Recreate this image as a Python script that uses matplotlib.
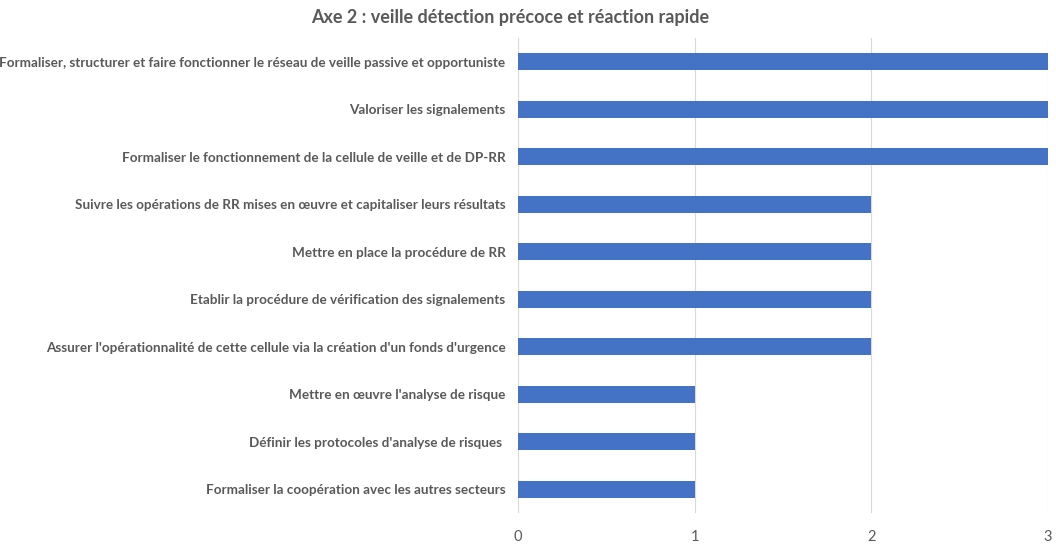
import matplotlib
matplotlib.use("Agg")
import matplotlib.pyplot as plt
import numpy as np

title = "Axe 2 : veille détection précoce et réaction rapide"
categories = [
    "Formaliser, structurer et faire fonctionner le réseau de veille passive et opportuniste",
    "Valoriser les signalements",
    "Formaliser le fonctionnement de la cellule de veille et de DP-RR",
    "Suivre les opérations de RR mises en œuvre et capitaliser leurs résultats",
    "Mettre en place la procédure de RR",
    "Etablir la procédure de vérification des signalements",
    "Assurer l'opérationnalité de cette cellule via la création d'un fonds d'urgence",
    "Mettre en œuvre l'analyse de risque",
    "Définir les protocoles d'analyse de risques ",
    "Formaliser la coopération avec les autres secteurs",
]
values = [3, 3, 3, 2, 2, 2, 2, 1, 1, 1]
xticks = [0, 1, 2, 3]

plt.rcParams['font.family'] = ['Lato', 'DejaVu Sans']

fig = plt.figure(figsize=(10.56, 5.47), dpi=100)
ax = fig.add_axes([518 / 1056, 1 - 513 / 547, (1048 - 518) / 1056, (513 - 38) / 547])

y = np.arange(len(categories))
ax.barh(y, values, height=0.36, color='#4472C4', zorder=3)
ax.set_ylim(len(categories) - 0.5, -0.5)
ax.set_xlim(0, 3)
ax.set_yticks(y)
ax.set_yticklabels(categories, fontsize=9.7, fontweight='bold', color='#595959')
ax.set_xticks(xticks)
ax.set_xticklabels([str(t) for t in xticks], fontsize=10.5, color='#595959')
ax.tick_params(axis='y', length=0, pad=9)
ax.tick_params(axis='x', length=0, pad=12)
ax.grid(axis='x', color='#D9D9D9', linewidth=0.8, zorder=0)
for s in ax.spines.values():
    s.set_visible(False)

fig.text(510 / 1056, 1 - 18 / 547, title, ha='center', va='center',
         fontsize=13, fontweight='bold', color='#595959')

fig.savefig("out.png", dpi=100, facecolor='white')
